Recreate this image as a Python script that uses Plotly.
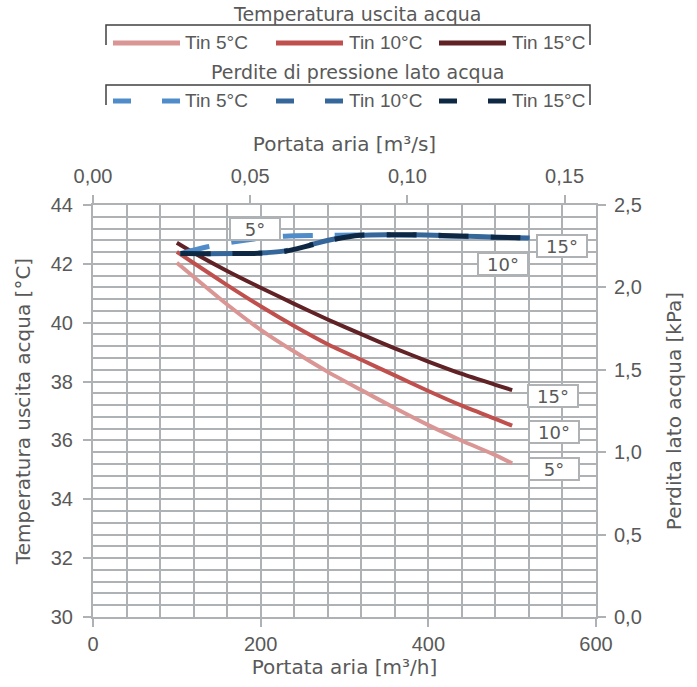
import plotly.graph_objects as go

# ---------------- data ----------------
flow_h = [100, 120, 160, 200, 240, 280, 320, 360, 400, 440, 480, 500]          # m3/h
t_out_5 = [42.04, 41.56, 40.62, 39.76, 39.02, 38.33, 37.71, 37.10, 36.52, 35.99, 35.50, 35.22]
t_out_10 = [42.41, 42.03, 41.28, 40.56, 39.89, 39.27, 38.74, 38.21, 37.68, 37.18, 36.73, 36.50]
t_out_15 = [42.72, 42.38, 41.76, 41.19, 40.64, 40.11, 39.61, 39.13, 38.68, 38.26, 37.89, 37.71]

flow_s_5 = [0.0278, 0.0361, 0.0444, 0.0528, 0.0611, 0.0722, 0.0833, 0.0972, 0.1111, 0.1250, 0.1389]  # m3/s
dp_5 = [2.205, 2.245, 2.275, 2.298, 2.311, 2.315, 2.318, 2.318, 2.312, 2.305, 2.300]
flow_s_10 = [0.0278, 0.0444, 0.0528, 0.0606, 0.0694, 0.0764, 0.0850, 0.0944, 0.1056, 0.1167, 0.1278, 0.1389]
dp_10 = [2.205, 2.205, 2.208, 2.220, 2.260, 2.292, 2.316, 2.320, 2.318, 2.312, 2.305, 2.300]
flow_s_15 = [0.0278, 0.0444, 0.0528, 0.0606, 0.0694, 0.0764, 0.0850, 0.0944, 0.1056, 0.1167, 0.1278, 0.1389]
dp_15 = [2.205, 2.205, 2.207, 2.217, 2.257, 2.290, 2.316, 2.320, 2.318, 2.312, 2.305, 2.300]

series_labels = ["Tin 5°C", "Tin 10°C", "Tin 15°C"]
end_labels = ["5°", "10°", "15°"]

# ---------------- style ----------------
C_T = ["#d99694", "#c0504d", "#612226"]
C_P = ["#4f8cc9", "#36679a", "#0e2843"]
GRID = "#aeb2b5"
TXT = "#595959"
TICKFONT = dict(family="Liberation Sans, Arial, sans-serif", size=20, color=TXT)
TITLEFONT = dict(family="DejaVu Sans, sans-serif", size=20, color=TXT)
LEGFONT = dict(family="Liberation Sans, Arial, sans-serif", size=19, color=TXT)
LBLFONT = dict(family="DejaVu Sans, sans-serif", size=18, color=TXT)

W, H = 697, 687
L, R, T, B = 93, 596, 205, 617


def px(xp):
    return (xp - L) / (R - L)


def py(yp):
    return (B - yp) / (B - T)


fig = go.Figure()

temps = [t_out_5, t_out_10, t_out_15]
for i in range(3):
    fig.add_trace(go.Scatter(
        x=flow_h, y=temps[i], name=series_labels[i], mode="lines",
        line=dict(color=C_T[i], width=4, shape="spline", smoothing=0.6),
        xaxis="x", yaxis="y", showlegend=False, legendgroup="t"))

flows_p = [flow_s_5, flow_s_10, flow_s_15]
dps = [dp_5, dp_10, dp_15]
dashes = ["30px,22px", "4px,22px,30px,22px,26px,0px", "30px,22px"]
for i in range(3):
    fig.add_trace(go.Scatter(
        x=flows_p[i], y=dps[i], name=series_labels[i], mode="lines",
        line=dict(color=C_P[i], width=5, shape="spline", smoothing=0.8, dash=dashes[i]),
        xaxis="x2", yaxis="y2", showlegend=False, legendgroup="p"))

# ---------------- labels (boxes) ----------------
box = dict(showarrow=False, bgcolor="white", bordercolor=GRID, borderwidth=2,
           borderpad=1, width=46, height=18, font=LBLFONT, align="center")
t_shifts = [(42, -6), (42, -6), (41, -6)]
for i in range(3):
    fig.add_annotation(x=flow_h[-1], y=temps[i][-1], xref="x", yref="y",
                       text=end_labels[i], xshift=t_shifts[i][0], yshift=t_shifts[i][1], **box)
# pressure labels
fig.add_annotation(x=flow_s_5[0], y=dp_5[0], xref="x2", yref="y2", text=end_labels[0],
                   xshift=75, yshift=25, **box)
fig.add_annotation(x=flow_s_10[-1], y=dp_10[-1], xref="x2", yref="y2", text=end_labels[1],
                   xshift=-27, yshift=-26, **box)
fig.add_annotation(x=flow_s_15[-1], y=dp_15[-1], xref="x2", yref="y2", text=end_labels[2],
                   xshift=32, yshift=-8, **box)

# ---------------- manual legends ----------------
legend_titles = ["Temperatura uscita acqua", "Perdite di pressione lato acqua"]
leg_rows = [(14, 25, 43), (72, 85, 101)]   # title y, bracket y, item y (pixels)
sample_x = [(113, 180), (276, 343), (439, 506)]
text_x = [183, 347, 510]
BRK = "#404040"
for r in range(2):
    ty, by, iy = leg_rows[r]
    fig.add_annotation(x=px(357), y=py(ty), xref="paper", yref="paper", text=legend_titles[r],
                       showarrow=False, font=dict(family="DejaVu Sans, sans-serif", size=19, color=TXT),
                       xanchor="center", yanchor="middle")
    fig.add_shape(type="path", xref="paper", yref="paper",
                  path=f"M {px(106)} {py(by + 20)} L {px(106)} {py(by)} L {px(590)} {py(by)} L {px(590)} {py(by + 20)}",
                  line=dict(color=BRK, width=1.5))
    for i in range(3):
        x0, x1 = sample_x[i]
        if r == 0:
            fig.add_shape(type="line", xref="paper", yref="paper",
                          x0=px(x0), x1=px(x1), y0=py(iy), y1=py(iy),
                          line=dict(color=C_T[i], width=5))
        else:
            fig.add_shape(type="line", xref="paper", yref="paper",
                          x0=px(x0), x1=px(x0 + 18), y0=py(iy), y1=py(iy),
                          line=dict(color=C_P[i], width=5))
            fig.add_shape(type="line", xref="paper", yref="paper",
                          x0=px(x1 - 18), x1=px(x1), y0=py(iy), y1=py(iy),
                          line=dict(color=C_P[i], width=5))
        fig.add_annotation(x=px(text_x[i]), y=py(iy), xref="paper", yref="paper",
                           text=series_labels[i], showarrow=False, font=LEGFONT,
                           xanchor="left", yanchor="middle")

axis_common = dict(showline=True, linecolor=GRID, linewidth=2, ticks="outside", ticklen=8,
                   tickwidth=2, tickcolor=GRID, tickfont=TICKFONT, zeroline=False)

fig.update_layout(
    width=W, height=H,
    margin=dict(l=L, r=W - R, t=T, b=H - B, autoexpand=False),
    paper_bgcolor="white", plot_bgcolor="white",
    separators=", ",
    showlegend=False,
    xaxis=dict(range=[0, 600], tick0=0, dtick=200, showgrid=True, gridcolor=GRID, gridwidth=2,
               minor=dict(dtick=40, showgrid=True, gridcolor=GRID, gridwidth=2),
               ticklabelstandoff=0,
               title=dict(text="Portata aria [m³/h]", font=TITLEFONT, standoff=6),
               **axis_common),
    yaxis=dict(range=[30, 44], tick0=30, dtick=2, showgrid=True, gridcolor=GRID, gridwidth=2,
               minor=dict(dtick=0.4, showgrid=True, gridcolor=GRID, gridwidth=2),
               ticklabelstandoff=6,
               title=dict(text="Temperatura uscita acqua [°C]", font=TITLEFONT, standoff=15),
               **axis_common),
    xaxis2=dict(overlaying="x", side="top", anchor="y", range=[0, 0.16], tick0=0, dtick=0.05,
                tickformat=".2f", showgrid=False, ticklabelstandoff=4,
                title=dict(text="Portata aria [m³/s]", font=TITLEFONT, standoff=8),
                **axis_common),
    yaxis2=dict(overlaying="y", side="right", anchor="x", range=[0, 2.5], tick0=0, dtick=0.5,
                tickformat=".1f", showgrid=False, ticklabelstandoff=4,
                title=dict(text="Perdita lato acqua [kPa]", font=TITLEFONT, standoff=26),
                **axis_common),
)

# remove the default page margin so the figure fills the window exactly; hide the modebar
fig.write_html("out.html", config={"displayModeBar": False},
               post_script="document.body.style.margin='0';")
